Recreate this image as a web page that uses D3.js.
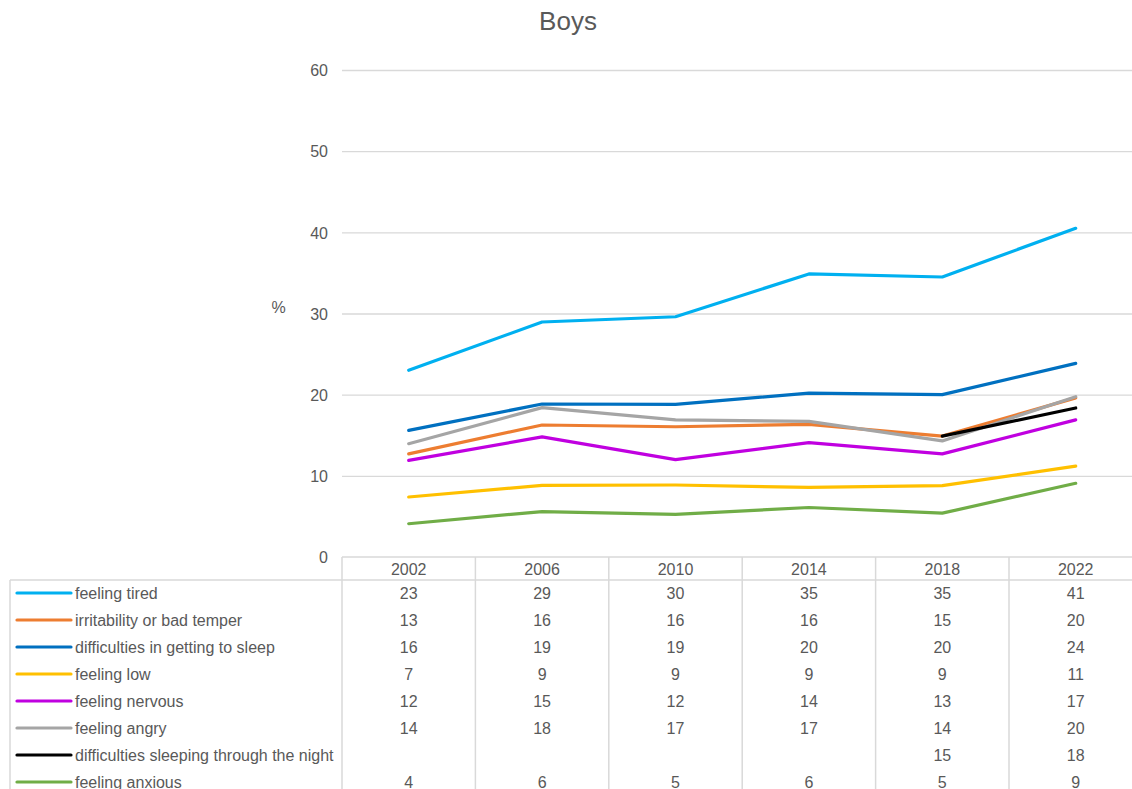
<!DOCTYPE html>
<html><head><meta charset="utf-8">
<script src="https://cdn.jsdelivr.net/npm/d3@7"></script>
<style>
html,body{margin:0;padding:0;background:#fff;overflow:hidden;}
svg{display:block;font-family:"Liberation Sans",Arial,sans-serif;}
</style></head>
<body>
<script>
const years = ["2002","2006","2010","2014","2018","2022"];
const seriesNames = ["feeling tired","irritability or bad temper","difficulties in getting to sleep","feeling low","feeling nervous","feeling angry","difficulties sleeping through the night","feeling anxious"];
const seriesColors = ["#00B0F0","#ED7D31","#0070C0","#FFC000","#C000E0","#A5A5A5","#000000","#70AD47"];
const tired = [23.0,28.95,29.6,34.87,34.5,40.5];
const irritability = [12.7,16.26,16.05,16.35,14.9,19.6];
const diffGetting = [15.6,18.85,18.8,20.2,20.0,23.86];
const low = [7.39,8.83,8.87,8.58,8.8,11.2];
const nervous = [11.9,14.8,12.0,14.1,12.7,16.9];
const angry = [13.96,18.4,16.9,16.7,14.3,19.75];
const diffNight = [null,null,null,null,14.9,18.36];
const anxious = [4.1,5.6,5.26,6.1,5.4,9.08];
const tableTired = ["23","29","30","35","35","41"];
const tableIrrit = ["13","16","16","16","15","20"];
const tableGetting = ["16","19","19","20","20","24"];
const tableLow = ["7","9","9","9","9","11"];
const tableNervous = ["12","15","12","14","13","17"];
const tableAngry = ["14","18","17","17","14","20"];
const tableNight = ["","","","","15","18"];
const tableAnxious = ["4","6","5","6","5","9"];
const yTicks = [0,10,20,30,40,50,60];

const seriesValues = [tired,irritability,diffGetting,low,nervous,angry,diffNight,anxious];
const tableValues = [tableTired,tableIrrit,tableGetting,tableLow,tableNervous,tableAngry,tableNight,tableAnxious];

(function(){
const W = 1132, H = 789;
const plotLeft = 342, colW = 133.4, plotTop = 70, plotBottom = 557;
const svg = d3.select("body").append("svg").attr("width",W).attr("height",H);

const x = d3.scaleBand().domain(years).range([plotLeft, plotLeft + colW*years.length]).paddingInner(0).paddingOuter(0);
const y = d3.scaleLinear().domain([0,60]).range([plotBottom, plotTop]);
const txt = "#595959", grid = "#D9D9D9";

// title
svg.append("text").attr("x",568).attr("y",30).attr("text-anchor","middle").attr("font-size",26).attr("fill",txt).text("Boys");

// gridlines
const yAxis = d3.axisLeft(y).tickValues(yTicks).tickSize(-(W - plotLeft + 20)).tickPadding(14).tickFormat(d3.format("d"));
const ga = svg.append("g").attr("transform",`translate(${plotLeft},0)`).call(yAxis);
ga.select(".domain").remove();
ga.selectAll(".tick line").attr("stroke",grid).attr("stroke-width",1.3).filter(d=>d===0).remove();
ga.selectAll(".tick text").attr("fill",txt).attr("font-size",16).attr("dy","0.36em");

// % label
svg.append("text").attr("x",278.5).attr("y",313).attr("text-anchor","middle").attr("font-size",16).attr("fill",txt).text("%");

// lines
const line = d3.line().defined(d=>d!=null).x((d,i)=>x(years[i]) + x.bandwidth()/2).y(d=>y(d));
seriesValues.forEach((vals,k)=>{
  svg.append("path").datum(vals)
    .attr("d", line)
    .attr("fill","none").attr("stroke",seriesColors[k]).attr("stroke-width",3.2)
    .attr("stroke-linejoin","round").attr("stroke-linecap","round");
});

// data table
const tableTop = plotBottom, headerH = 23, rowH = 27;
const bodyTop = tableTop + headerH;
const tg = svg.append("g");
const bc = "#D9D9D9";
tg.append("line").attr("x1",plotLeft).attr("x2",W+10).attr("y1",tableTop).attr("y2",tableTop).attr("stroke",bc).attr("stroke-width",1.5);
tg.append("line").attr("x1",10).attr("x2",W+10).attr("y1",bodyTop).attr("y2",bodyTop).attr("stroke",bc).attr("stroke-width",1.5);
tg.append("line").attr("x1",10).attr("x2",10).attr("y1",bodyTop).attr("y2",H+5).attr("stroke",bc).attr("stroke-width",1.5);
years.forEach((yr)=>{
  tg.append("line").attr("x1",x(yr)).attr("x2",x(yr)).attr("y1",tableTop).attr("y2",H+5).attr("stroke",bc).attr("stroke-width",1.5);
});
tg.selectAll(".hdr").data(years).join("text")
  .attr("x",d=>x(d)+x.bandwidth()/2).attr("y",tableTop+17.5).attr("text-anchor","middle")
  .attr("font-size",16).attr("fill",txt).text(d=>d);
seriesNames.forEach((name,k)=>{
  const cy = bodyTop + 13 + rowH*k;
  tg.append("line").attr("x1",17).attr("x2",71).attr("y1",cy).attr("y2",cy)
    .attr("stroke",seriesColors[k]).attr("stroke-width",3.2).attr("stroke-linecap","round");
  tg.append("text").attr("x",75).attr("y",cy+6).attr("font-size",16).attr("fill",txt).text(name);
  tableValues[k].forEach((v,i)=>{
    tg.append("text").attr("x",x(years[i])+x.bandwidth()/2).attr("y",cy+6).attr("text-anchor","middle")
      .attr("font-size",16).attr("fill",txt).text(v);
  });
});
})();
</script>
</body></html>
